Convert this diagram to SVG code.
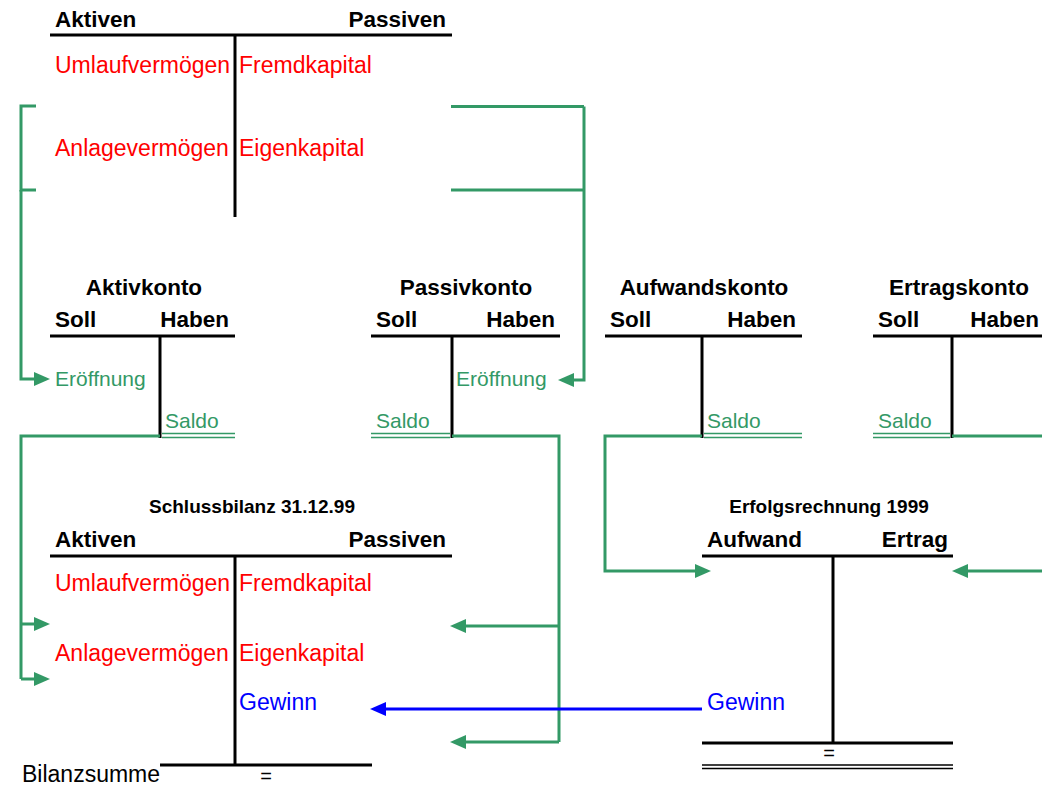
<svg xmlns="http://www.w3.org/2000/svg" width="1042" height="785" viewBox="0 0 1042 785">
<defs>
<style>
text{font-family:"Liberation Sans",Arial,sans-serif}
.h{font-size:22.5px;font-weight:bold;fill:#000}
.t{font-size:19px;font-weight:bold;fill:#000}
.r{font-size:23px;fill:#ff0000}
.b{font-size:23px;fill:#0000ff}
.g{font-size:21px;fill:#339966}
.k{font-size:23px;fill:#000}
.e{font-size:20px;fill:#000}
.bl{stroke:#000;stroke-width:3;fill:none}
.dl{stroke:#000;stroke-width:1.4;fill:none}
.gl{stroke:#339966;stroke-width:3;fill:none}
.gd{stroke:#339966;stroke-width:1.4;fill:none}
.ga{stroke:#339966;stroke-width:3;fill:none;marker-end:url(#ag)}
.ba{stroke:#0000ff;stroke-width:3;fill:none;marker-end:url(#ab)}
</style>
<marker id="ag" markerUnits="userSpaceOnUse" markerWidth="16" markerHeight="14" refX="8" refY="7" orient="auto"><path d="M0,0 L16,7 L0,14 z" fill="#339966"/></marker>
<marker id="ab" markerUnits="userSpaceOnUse" markerWidth="16" markerHeight="14" refX="8" refY="7" orient="auto"><path d="M0,0 L16,7 L0,14 z" fill="#0000ff"/></marker>
</defs>
<rect width="1042" height="785" fill="#fff"/>

<g id="eroeffnungsbilanz">
<line class="bl" x1="50" y1="35" x2="452" y2="35"/>
<line class="bl" x1="235" y1="35" x2="235" y2="217"/>
<text class="h" x="55" y="27">Aktiven</text>
<text class="h" x="446" y="27" text-anchor="end">Passiven</text>
<text class="r" x="55" y="73">Umlaufvermögen</text>
<text class="r" x="239" y="73">Fremdkapital</text>
<text class="r" x="55" y="156">Anlagevermögen</text>
<text class="r" x="239" y="156">Eigenkapital</text>
</g>

<g id="aktivkonto">
<text class="h" x="144" y="295" text-anchor="middle">Aktivkonto</text>
<text class="h" x="55" y="327">Soll</text>
<text class="h" x="229" y="327" text-anchor="end">Haben</text>
<line class="bl" x1="50" y1="336" x2="235" y2="336"/>
<line class="bl" x1="160" y1="336" x2="160" y2="438"/>
<text class="g" x="55" y="386">Eröffnung</text>
<text class="g" x="165" y="428">Saldo</text>
<line class="gd" x1="162" y1="433.5" x2="235" y2="433.5"/>
<line class="gd" x1="162" y1="437.5" x2="235" y2="437.5"/>
</g>

<g id="passivkonto">
<text class="h" x="466" y="295" text-anchor="middle">Passivkonto</text>
<text class="h" x="376" y="327">Soll</text>
<text class="h" x="555" y="327" text-anchor="end">Haben</text>
<line class="bl" x1="371" y1="336" x2="560" y2="336"/>
<line class="bl" x1="452" y1="336" x2="452" y2="438"/>
<text class="g" x="456" y="386">Eröffnung</text>
<text class="g" x="376" y="428">Saldo</text>
<line class="gd" x1="371" y1="433.5" x2="450" y2="433.5"/>
<line class="gd" x1="371" y1="437.5" x2="450" y2="437.5"/>
</g>

<g id="aufwandskonto">
<text class="h" x="704" y="295" text-anchor="middle">Aufwandskonto</text>
<text class="h" x="610" y="327">Soll</text>
<text class="h" x="796" y="327" text-anchor="end">Haben</text>
<line class="bl" x1="605" y1="336" x2="802" y2="336"/>
<line class="bl" x1="702" y1="336" x2="702" y2="438"/>
<text class="g" x="707" y="428">Saldo</text>
<line class="gd" x1="704" y1="433.5" x2="802" y2="433.5"/>
<line class="gd" x1="704" y1="437.5" x2="802" y2="437.5"/>
</g>

<g id="ertragskonto">
<text class="h" x="959" y="295" text-anchor="middle">Ertragskonto</text>
<text class="h" x="878" y="327">Soll</text>
<text class="h" x="1039" y="327" text-anchor="end">Haben</text>
<line class="bl" x1="873" y1="336" x2="1042" y2="336"/>
<line class="bl" x1="952" y1="336" x2="952" y2="438"/>
<text class="g" x="878" y="428">Saldo</text>
<line class="gd" x1="873" y1="433.5" x2="950" y2="433.5"/>
<line class="gd" x1="873" y1="437.5" x2="950" y2="437.5"/>
</g>

<g id="schlussbilanz">
<text class="t" x="252" y="513" text-anchor="middle">Schlussbilanz 31.12.99</text>
<text class="h" x="55" y="547">Aktiven</text>
<text class="h" x="446" y="547" text-anchor="end">Passiven</text>
<line class="bl" x1="50" y1="556" x2="452" y2="556"/>
<line class="bl" x1="235" y1="556" x2="235" y2="766"/>
<line class="bl" x1="160" y1="765" x2="372" y2="765"/>
<text class="r" x="55" y="591">Umlaufvermögen</text>
<text class="r" x="239" y="591">Fremdkapital</text>
<text class="r" x="55" y="661">Anlagevermögen</text>
<text class="r" x="239" y="661">Eigenkapital</text>
<text class="b" x="239" y="710">Gewinn</text>
<text class="k" x="22" y="782">Bilanzsumme</text>
<text class="e" x="266" y="783" text-anchor="middle">=</text>
</g>

<g id="erfolgsrechnung">
<text class="t" x="829" y="513" text-anchor="middle">Erfolgsrechnung 1999</text>
<text class="h" x="707" y="547">Aufwand</text>
<text class="h" x="948" y="547" text-anchor="end">Ertrag</text>
<line class="bl" x1="702" y1="556" x2="953" y2="556"/>
<line class="bl" x1="833" y1="556" x2="833" y2="743"/>
<line class="bl" x1="702" y1="743" x2="953" y2="743"/>
<text class="e" x="829" y="760" text-anchor="middle">=</text>
<line class="dl" x1="702" y1="765" x2="953" y2="765"/>
<line class="dl" x1="702" y1="768.5" x2="953" y2="768.5"/>
<text class="b" x="707" y="710">Gewinn</text>
</g>

<g id="connectors">
<path class="gl" d="M36,106 H21 V190 H36"/>
<path class="ga" d="M21,190 V379 H42"/>
<path class="gl" d="M451,106.5 H584 M451,190 H584"/>
<path class="ga" d="M584,106.5 V380 H566"/>
<path class="gl" d="M160,436 H21 V679"/>
<path class="ga" d="M21,624 H42"/>
<path class="ga" d="M21,679 H42"/>
<path class="gl" d="M452,436 H559 V742"/>
<path class="ga" d="M559,626 H458"/>
<path class="ga" d="M559,742 H458"/>
<path class="ga" d="M702,436 H605 V571 H703"/>
<path class="gl" d="M952,436 H1042"/>
<path class="ga" d="M1042,571 H960"/>
<path class="ba" d="M702,709 H378"/>
</g>
</svg>
